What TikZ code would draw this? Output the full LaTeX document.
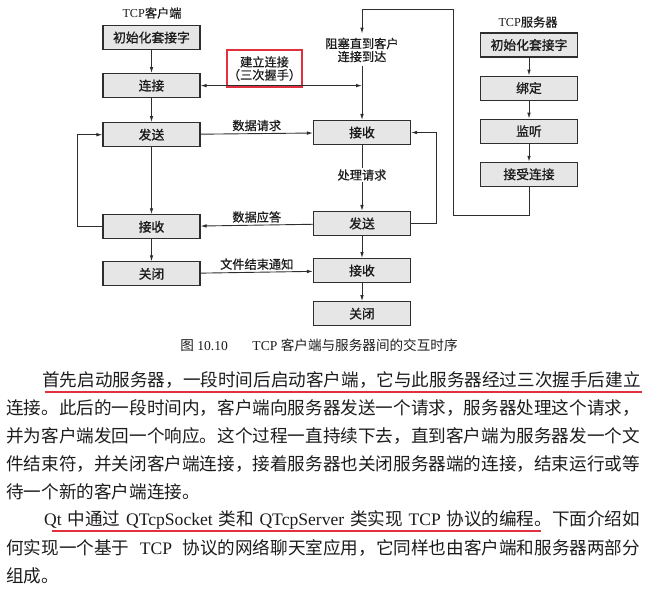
\documentclass[tikz,border=0pt]{standalone}
\usepackage{fontspec}
\setmainfont{Liberation Serif}
\newfontfamily\cjk{Noto Sans CJK SC}
\newfontfamily\cjkbox[FakeBold=1.2]{Noto Sans CJK SC}
\newfontfamily\cjknote[FakeBold=0.6]{Noto Sans CJK SC}
\usetikzlibrary{positioning,arrows.meta}
\XeTeXlinebreaklocale "zh"
\XeTeXlinebreakskip=0pt plus 1pt
\definecolor{TcpInk}{HTML}{2E2E2E}
\definecolor{TcpBox}{HTML}{E6E6E6}
\definecolor{TcpRed}{HTML}{E2303E}
\definecolor{TcpText}{HTML}{1C1C1C}
\newcommand\latw[1]{{\rmfamily #1}}

\begin{document}
\begin{tikzpicture}[x=1pt, y=-1pt,
    stepbox/.style={draw=TcpInk, line width=1.1pt, fill=TcpBox, minimum width=97pt,
      minimum height=24pt, inner sep=0pt, text=TcpText, font=\cjkbox\fontsize{12.8}{14}\selectfont},
    note/.style={font=\cjknote\fontsize{12.2}{13}\selectfont, text=TcpText, inner sep=1pt, align=center},
    flow/.style={-{Latex[length=6pt,width=3.6pt]}, draw=TcpInk, line width=0.9pt},
    plain/.style={draw=TcpInk, line width=0.9pt},
    para/.style={anchor=west, inner sep=0pt, text=TcpText, font=\cjk\fontsize{17.6}{28}\selectfont},
    uline/.style={draw=TcpRed, line width=1.4pt}]
  \useasboundingbox (0,0) rectangle (651,592);

  \node[note] (ctitle) at (152,13) {\latw{TCP}客户端};
  \node[stepbox] (cinit) at (151.5,37.5) {初始化套接字};
  \node[stepbox, below=23pt of cinit] (cconn) {连接};
  \node[stepbox, below=24pt of cconn] (csend) {发送};
  \node[stepbox, below=67pt of csend] (crecv) {接收};
  \node[stepbox, below=22pt of crecv] (cclose) {关闭};

  \node[note, inner sep=4pt] (wait) at (362,50) {阻塞直到客户\\连接到达};
  \node[stepbox] (srecv) at (362,132.5) {接收};
  \node[note] (proc) at (362,175) {处理请求};
  \node[stepbox] (ssend) at (362,223.5) {发送};
  \node[stepbox, below=22pt of ssend] (srecv2) {接收};
  \node[stepbox, below=18pt of srecv2] (sclose) {关闭};

  \node[note] (stitle) at (528,22) {\latw{TCP}服务器};
  \node[stepbox] (sinit) at (529,45) {初始化套接字};
  \node[stepbox, below=18pt of sinit] (sbind) {绑定};
  \node[stepbox, below=18pt of sbind] (slisten) {监听};
  \node[stepbox, below=18pt of slisten] (saccept) {接受连接};

  \node[note, draw=TcpRed, line width=1.5pt, minimum width=75pt, minimum height=37pt]
    (hsk) at (264.5,68.5) {建立连接\\（三次握手）};

  \draw[flow] (cinit) -- (cconn);
  \draw[flow] (cconn) -- (csend);
  \draw[flow] (csend) -- (crecv);
  \draw[flow] (crecv) -- (cclose);
  \draw[flow] (crecv.west) -- ++(-25,0) |- (csend.west);

  \draw[flow] (sinit) -- (sbind);
  \draw[flow] (sbind) -- (slisten);
  \draw[flow] (slisten) -- (saccept);
  \draw[flow] (saccept.south) -- ++(0,29) -| (453,9) -| (wait.north);

  \draw[flow] (wait) -- (srecv);
  \draw[plain] (srecv) -- (proc);
  \draw[flow] (proc) -- (ssend);
  \draw[flow] (ssend) -- (srecv2);
  \draw[flow] (srecv2) -- (sclose);
  \draw[flow] (ssend.east) -- ++(25,0) |- (srecv.east);

  \draw[flow, {Latex[length=6pt,width=3.6pt]}-{Latex[length=6pt,width=3.6pt]}]
    (cconn.east) -- (cconn.east -| wait.south);
  \draw[flow] (csend) -- node[note, above=1pt] {数据请求} (srecv);
  \draw[flow] (ssend) -- node[note, above=1pt] {数据应答} (crecv);
  \draw[flow] (cclose) -- node[note, above=1pt] {文件结束通知} (srecv2);

  \node[text=TcpText, font=\fontsize{13.6}{15}\selectfont] (cap) at (319,345)
    {{\cjk 图} 10.10\hspace{1.8em}TCP {\cjk 客户端与服务器间的交互时序}};

  \node[para] (l1) at (42,380) {\makebox[598pt][s]{首先启动服务器，一段时间后启动客户端，它与此服务器经过三次握手后建立}};
  \node[para] (l2) at (6,408) {\makebox[634pt][s]{连接。此后的一段时间内，客户端向服务器发送一个请求，服务器处理这个请求，}};
  \node[para] (l3) at (6,436) {\makebox[634pt][s]{并为客户端发回一个响应。这个过程一直持续下去，直到客户端为服务器发一个文}};
  \node[para] (l4) at (6,464) {\makebox[634pt][s]{件结束符，并关闭客户端连接，接着服务器也关闭服务器端的连接，结束运行或等}};
  \node[para] (l5) at (6,492) {待一个新的客户端连接。};
  \node[para] (l6) at (44,520) {\makebox[596pt][s]{\latw{Qt} 中通过 \latw{QTcpSocket} 类和 \latw{QTcpServer} 类实现 \latw{TCP} 协议的编程。下面介绍如}};
  \node[para] (l7) at (6,548) {\makebox[634pt][s]{何实现一个基于 \latw{TCP} 协议的网络聊天室应用，它同样也由客户端和服务器两部分}};
  \node[para] (l8) at (6,576) {组成。};

  \draw[uline] (45,392) -- (642,392);
  \draw[uline] (52,531) -- (541,531);
\end{tikzpicture}
\end{document}
